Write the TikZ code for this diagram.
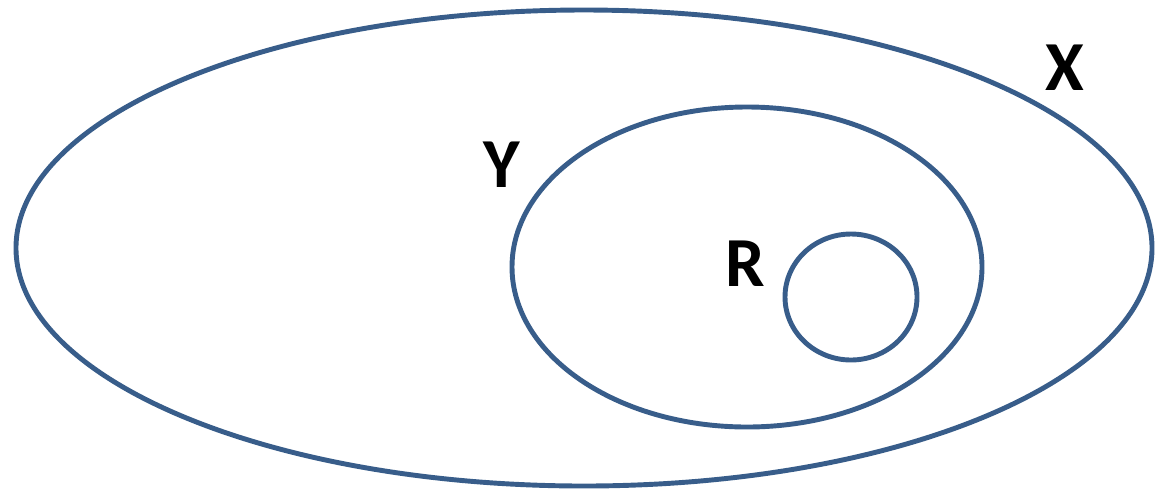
\documentclass[tikz,border=0pt]{standalone}
\usepackage{fontspec}
\setmainfont{Carlito}
\usepackage{tikz}
\definecolor{setblue}{RGB}{56, 93, 138}

\begin{document}
\begin{tikzpicture}[x=0.02cm, y=-0.02cm,
    setline/.style={draw=setblue, line width=2.8pt},
    setlabel/.style={font=\fontsize{40}{48}\selectfont\bfseries, inner sep=0pt}]
    % Frame
    \useasboundingbox (0,0) rectangle (1162,491);

    % Sets
    \draw[setline] (584,248) ellipse [x radius=568, y radius=238];
    \draw[setline] (747,267) ellipse [x radius=235, y radius=160];
    \draw[setline] (851,297) ellipse [x radius=66, y radius=63];

    % Labels
    \node[setlabel] (labelX) at (1065,68) {X};
    \node[setlabel] (labelY) at (502,165) {Y};
    \node[setlabel] (labelR) at (745,264) {R};
\end{tikzpicture}
\end{document}
